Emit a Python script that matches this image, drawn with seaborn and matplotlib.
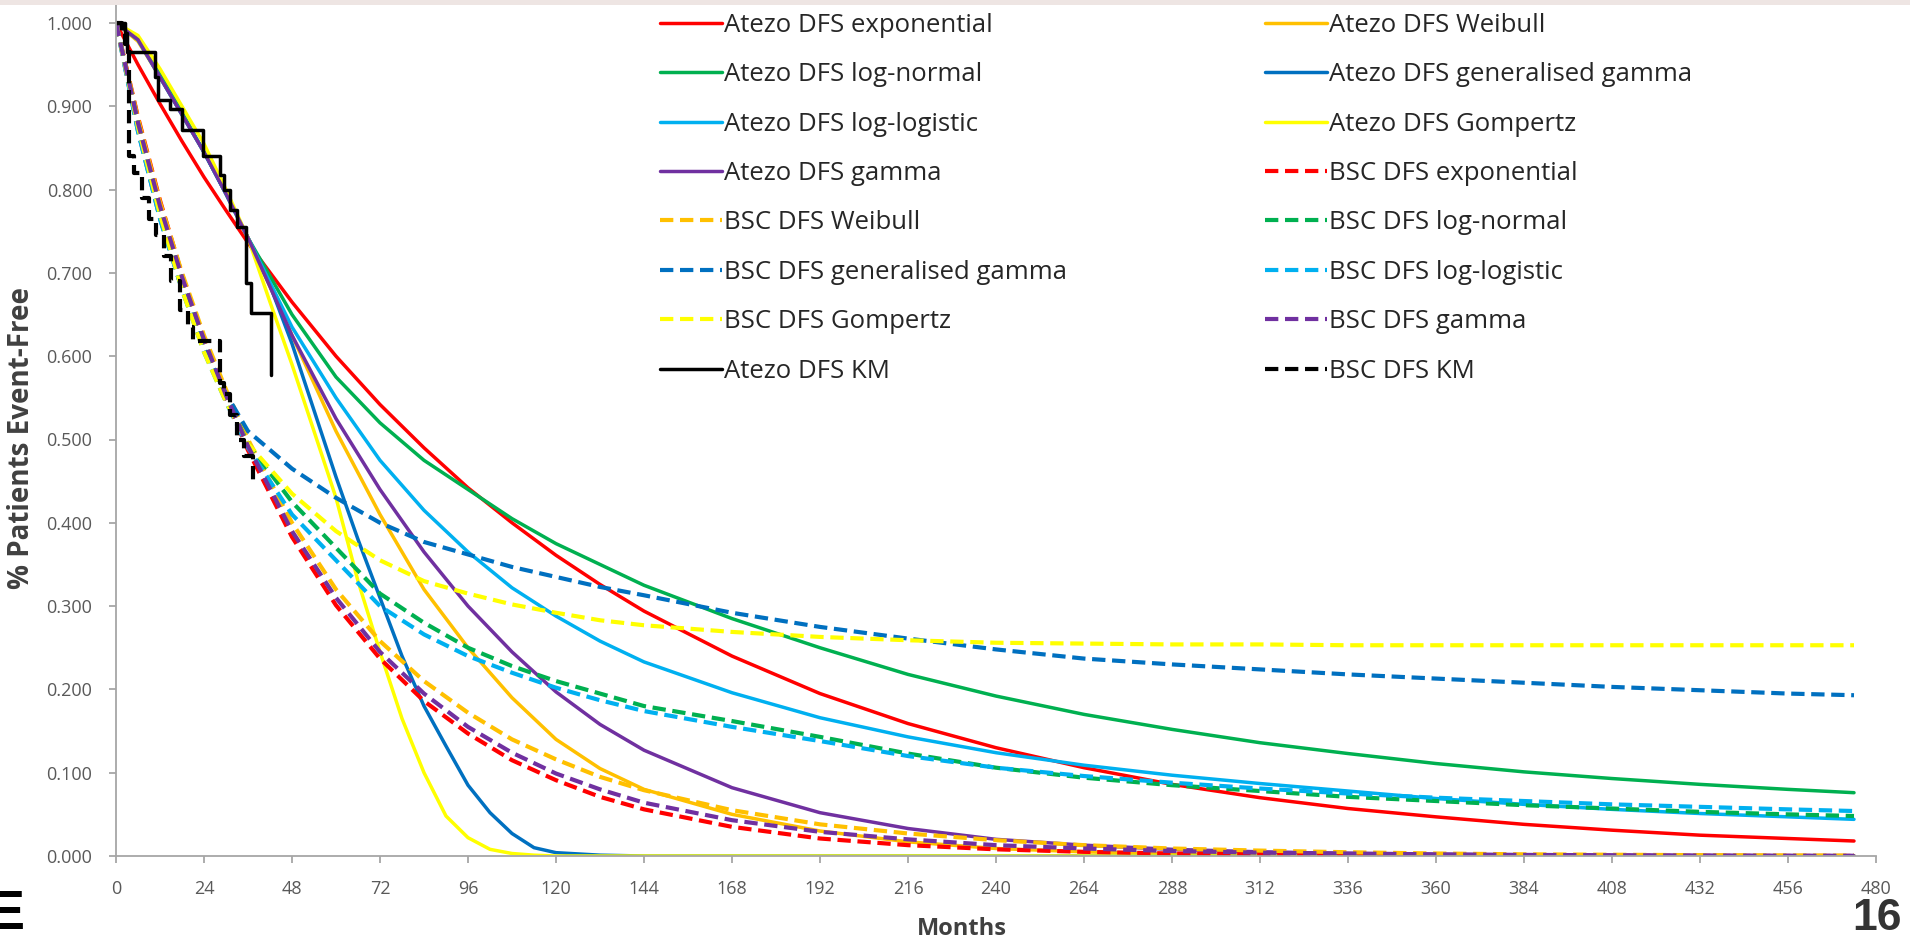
import numpy as np
import pandas as pd
import matplotlib
matplotlib.use("Agg")
import matplotlib.pyplot as plt
import seaborn as sns
from matplotlib.patches import Rectangle

# Months (coarse grid for the smoother curves, fine grid for the steep ones)
months = [0, 6, 12, 18, 24, 30, 36, 48, 60, 72, 84, 96, 108, 120, 132, 144, 168, 192,
          216, 240, 264, 288, 312, 336, 360, 384, 408, 432, 456, 474]
months_fine = [0, 6, 12, 18, 24, 30, 36, 42, 48, 54, 60, 66, 72, 78, 84, 90, 96, 102,
               108, 114, 120, 132, 144, 474]

# Atezo DFS fitted curves
atezo_exp = [1.000, 0.950, 0.903, 0.858, 0.815, 0.775, 0.736, 0.665, 0.600, 0.542, 0.490, 0.442,
             0.400, 0.361, 0.326, 0.294, 0.240, 0.195, 0.159, 0.130, 0.106, 0.086, 0.070, 0.057,
             0.047, 0.038, 0.031, 0.025, 0.021, 0.018]
atezo_weibull = [1.000, 0.978, 0.935, 0.890, 0.845, 0.795, 0.742, 0.625, 0.510, 0.410, 0.320, 0.250,
                 0.190, 0.140, 0.105, 0.080, 0.050, 0.030, 0.017, 0.009, 0.005, 0.0025, 0.0012,
                 0.0005, 0.0, 0.0, 0.0, 0.0, 0.0, 0.0]
atezo_lognormal = [1.000, 0.982, 0.940, 0.893, 0.845, 0.795, 0.742, 0.650, 0.575, 0.520, 0.475, 0.440,
                   0.405, 0.375, 0.350, 0.325, 0.285, 0.250, 0.218, 0.192, 0.170, 0.152, 0.136, 0.123,
                   0.111, 0.101, 0.093, 0.086, 0.080, 0.076]
atezo_gengamma = [1.000, 0.980, 0.935, 0.890, 0.845, 0.795, 0.742, 0.685, 0.615, 0.535, 0.455, 0.380,
                  0.310, 0.240, 0.180, 0.132, 0.085, 0.052, 0.027, 0.010, 0.004, 0.001, 0.0, 0.0]
atezo_loglogistic = [1.000, 0.980, 0.935, 0.890, 0.845, 0.795, 0.742, 0.635, 0.550, 0.475, 0.415, 0.365,
                     0.322, 0.288, 0.258, 0.233, 0.196, 0.166, 0.143, 0.124, 0.109, 0.097, 0.087, 0.078,
                     0.069, 0.062, 0.056, 0.051, 0.047, 0.044]
atezo_gompertz = [1.000, 0.985, 0.945, 0.900, 0.855, 0.800, 0.742, 0.665, 0.590, 0.510, 0.430, 0.330,
                  0.245, 0.165, 0.100, 0.048, 0.022, 0.008, 0.003, 0.001, 0.0, 0.0, 0.0, 0.0]
atezo_gamma = [1.000, 0.980, 0.935, 0.890, 0.845, 0.795, 0.742, 0.625, 0.525, 0.440, 0.365, 0.300,
               0.245, 0.197, 0.158, 0.127, 0.082, 0.052, 0.033, 0.020, 0.013, 0.008, 0.005, 0.003,
               0.002, 0.0012, 0.0008, 0.0005, 0.0003, 0.0002]

# BSC DFS fitted curves
bsc_exp = [1.000, 0.887, 0.787, 0.698, 0.619, 0.549, 0.487, 0.383, 0.301, 0.237, 0.186, 0.147,
           0.115, 0.091, 0.071, 0.056, 0.035, 0.021, 0.013, 0.008, 0.005, 0.003, 0.002, 0.001,
           0.001, 0.0005, 0.0003, 0.0002, 0.0001, 0.0001]
bsc_weibull = [1.000, 0.885, 0.785, 0.700, 0.625, 0.560, 0.500, 0.400, 0.320, 0.258, 0.210, 0.172,
               0.140, 0.116, 0.095, 0.079, 0.055, 0.038, 0.027, 0.019, 0.013, 0.009, 0.0065, 0.0045,
               0.003, 0.002, 0.0015, 0.001, 0.0007, 0.0005]
bsc_lognormal = [1.000, 0.880, 0.775, 0.690, 0.615, 0.550, 0.495, 0.425, 0.370, 0.315, 0.280, 0.250,
                 0.228, 0.210, 0.195, 0.180, 0.162, 0.143, 0.123, 0.106, 0.094, 0.085, 0.078, 0.071,
                 0.066, 0.061, 0.057, 0.053, 0.050, 0.048]
bsc_gengamma = [1.000, 0.870, 0.765, 0.680, 0.610, 0.555, 0.510, 0.465, 0.430, 0.400, 0.377, 0.362,
                0.347, 0.335, 0.323, 0.313, 0.292, 0.275, 0.261, 0.248, 0.237, 0.230, 0.224, 0.218,
                0.213, 0.208, 0.203, 0.199, 0.195, 0.193]
bsc_loglogistic = [1.000, 0.870, 0.765, 0.680, 0.605, 0.545, 0.490, 0.410, 0.355, 0.300, 0.266, 0.240,
                   0.220, 0.202, 0.187, 0.174, 0.155, 0.138, 0.120, 0.106, 0.096, 0.088, 0.081, 0.075,
                   0.070, 0.066, 0.062, 0.059, 0.056, 0.054]
bsc_gompertz = [1.000, 0.875, 0.770, 0.680, 0.605, 0.545, 0.495, 0.435, 0.390, 0.355, 0.330, 0.315,
                0.302, 0.292, 0.283, 0.277, 0.269, 0.263, 0.259, 0.256, 0.255, 0.254, 0.254, 0.253,
                0.253, 0.253, 0.253, 0.253, 0.253, 0.253]
bsc_gamma = [1.000, 0.880, 0.780, 0.695, 0.620, 0.553, 0.492, 0.390, 0.310, 0.245, 0.195, 0.155,
             0.124, 0.099, 0.080, 0.064, 0.043, 0.029, 0.020, 0.013, 0.009, 0.006, 0.004, 0.003,
             0.002, 0.0013, 0.0009, 0.0006, 0.0004, 0.0003]

# Kaplan-Meier steps
atezo_km_t = [0, 2.5, 3.1, 10.6, 11.5, 14.7, 17.9, 23.8, 28.4, 29.5, 31.0, 32.9, 35.4, 36.8, 42.3]
atezo_km_s = [1.000, 0.988, 0.965, 0.935, 0.908, 0.897, 0.872, 0.840, 0.818, 0.800, 0.775, 0.755,
              0.688, 0.652, 0.577]
bsc_km_t = [0, 1.5, 2.5, 3.6, 5.0, 7.0, 9.0, 11.0, 13.0, 15.0, 17.5, 19.5, 21.0, 28.4, 29.5, 31.0,
            33.0, 35.0, 37.4]
bsc_km_s = [1.000, 0.990, 0.975, 0.840, 0.820, 0.790, 0.765, 0.745, 0.720, 0.690, 0.655, 0.635,
            0.618, 0.568, 0.555, 0.530, 0.500, 0.480, 0.451]

y_ticks = [0.0, 0.1, 0.2, 0.3, 0.4, 0.5, 0.6, 0.7, 0.8, 0.9, 1.0]
x_ticks = list(range(0, 481, 24))

RED, ORANGE, GREEN, BLUE = "#FF0000", "#FFC000", "#00B050", "#0070C0"
CYAN, YELLOW, PURPLE, BLACK = "#00B0F0", "#FFFF00", "#7030A0", "#000000"

series = [
    ("Atezo DFS exponential", months, atezo_exp, RED, "solid"),
    ("Atezo DFS Weibull", months, atezo_weibull, ORANGE, "solid"),
    ("Atezo DFS log-normal", months, atezo_lognormal, GREEN, "solid"),
    ("Atezo DFS generalised gamma", months_fine, atezo_gengamma, BLUE, "solid"),
    ("Atezo DFS log-logistic", months, atezo_loglogistic, CYAN, "solid"),
    ("Atezo DFS Gompertz", months_fine, atezo_gompertz, YELLOW, "solid"),
    ("Atezo DFS gamma", months, atezo_gamma, PURPLE, "solid"),
    ("BSC DFS exponential", months, bsc_exp, RED, "dash"),
    ("BSC DFS Weibull", months, bsc_weibull, ORANGE, "dash"),
    ("BSC DFS log-normal", months, bsc_lognormal, GREEN, "dash"),
    ("BSC DFS generalised gamma", months, bsc_gengamma, BLUE, "dash"),
    ("BSC DFS log-logistic", months, bsc_loglogistic, CYAN, "dash"),
    ("BSC DFS Gompertz", months, bsc_gompertz, YELLOW, "dash"),
    ("BSC DFS gamma", months, bsc_gamma, PURPLE, "dash"),
    ("Atezo DFS KM", atezo_km_t, atezo_km_s, BLACK, "solid"),
    ("BSC DFS KM", bsc_km_t, bsc_km_s, BLACK, "dash"),
]

sns.set_theme(style="white")
plt.rcParams['font.family'] = ['Open Sans', 'DejaVu Sans']

W, H = 1910, 941
fig = plt.figure(figsize=(W / 100, H / 100), dpi=100)
ax = fig.add_axes([116 / W, 1 - 856 / H, (1876 - 116) / W, 851 / H])

handles = []
for name, xs, ys, col, style in series:
    df = pd.DataFrame({"Months": xs, "Surv": ys})
    kw = dict(color=col, estimator=None, sort=False, legend=False, ax=ax)
    if style == "dash":
        kw.update(linewidth=3.0, linestyle=(0, (3.2, 1.6)))
    else:
        kw.update(linewidth=2.5, linestyle="solid")
    if "KM" in name:
        kw["drawstyle"] = "steps-post"
    sns.lineplot(data=df, x="Months", y="Surv", **kw)
    line = ax.lines[-1]
    line.set_label(name)
    handles.append(line)

ax.set_xlim(0, 480)
ax.set_ylim(0, 851 / 833)
ax.set_xticks(x_ticks)
ax.set_yticks(y_ticks)
ax.set_yticklabels([f"{v:.3f}" for v in y_ticks])
ax.tick_params(axis="both", which="major", bottom=True, left=True, direction="out",
               length=5, width=1.3, color="#A6A6A6", labelsize=13, labelcolor="#595959")
ax.tick_params(axis="y", pad=12)
ax.tick_params(axis="x", pad=12)
for side in ["top", "right"]:
    ax.spines[side].set_visible(False)
for side in ["left", "bottom"]:
    ax.spines[side].set_color("#A6A6A6")
    ax.spines[side].set_linewidth(1.3)
ax.set_xlabel("")
ax.set_ylabel("")

fig.text(22 / W, 1 - 438 / H, "% Patients Event-Free", rotation=90, ha="center", va="center",
         fontsize=20, fontweight="bold", color="#404040")
fig.text(962 / W, 1 - 929 / H, "Months", ha="center", va="center",
         fontsize=17, fontweight="bold", color="#404040")

leg_kw = dict(frameon=False, borderpad=0, handlelength=2.4, handletextpad=0.1,
              labelspacing=0.95, fontsize=18.5, labelcolor="#262626", loc="upper left",
              bbox_transform=fig.transFigure)
leg1 = ax.legend(handles=handles[0::2], bbox_to_anchor=(647 / W, 1.0), **leg_kw)
ax.add_artist(leg1)
ax.legend(handles=handles[1::2], bbox_to_anchor=(1252 / W, 1.0), **leg_kw)

fig.add_artist(Rectangle((0, 1 - 5 / H), 1, 5 / H, transform=fig.transFigure,
                         facecolor="#EEE5E3", edgecolor="none"))
fig.text(-13 / W, 1 - 915 / H, "E", ha="left", va="center", fontsize=40, fontweight="bold",
         color="black", family=["Liberation Sans", "DejaVu Sans"])
fig.text(1902 / W, 1 - 918 / H, "16", ha="right", va="center", fontsize=32, fontweight="bold",
         color="#333333", family=["Liberation Sans", "DejaVu Sans"])

fig.savefig("out.png", dpi=100)
